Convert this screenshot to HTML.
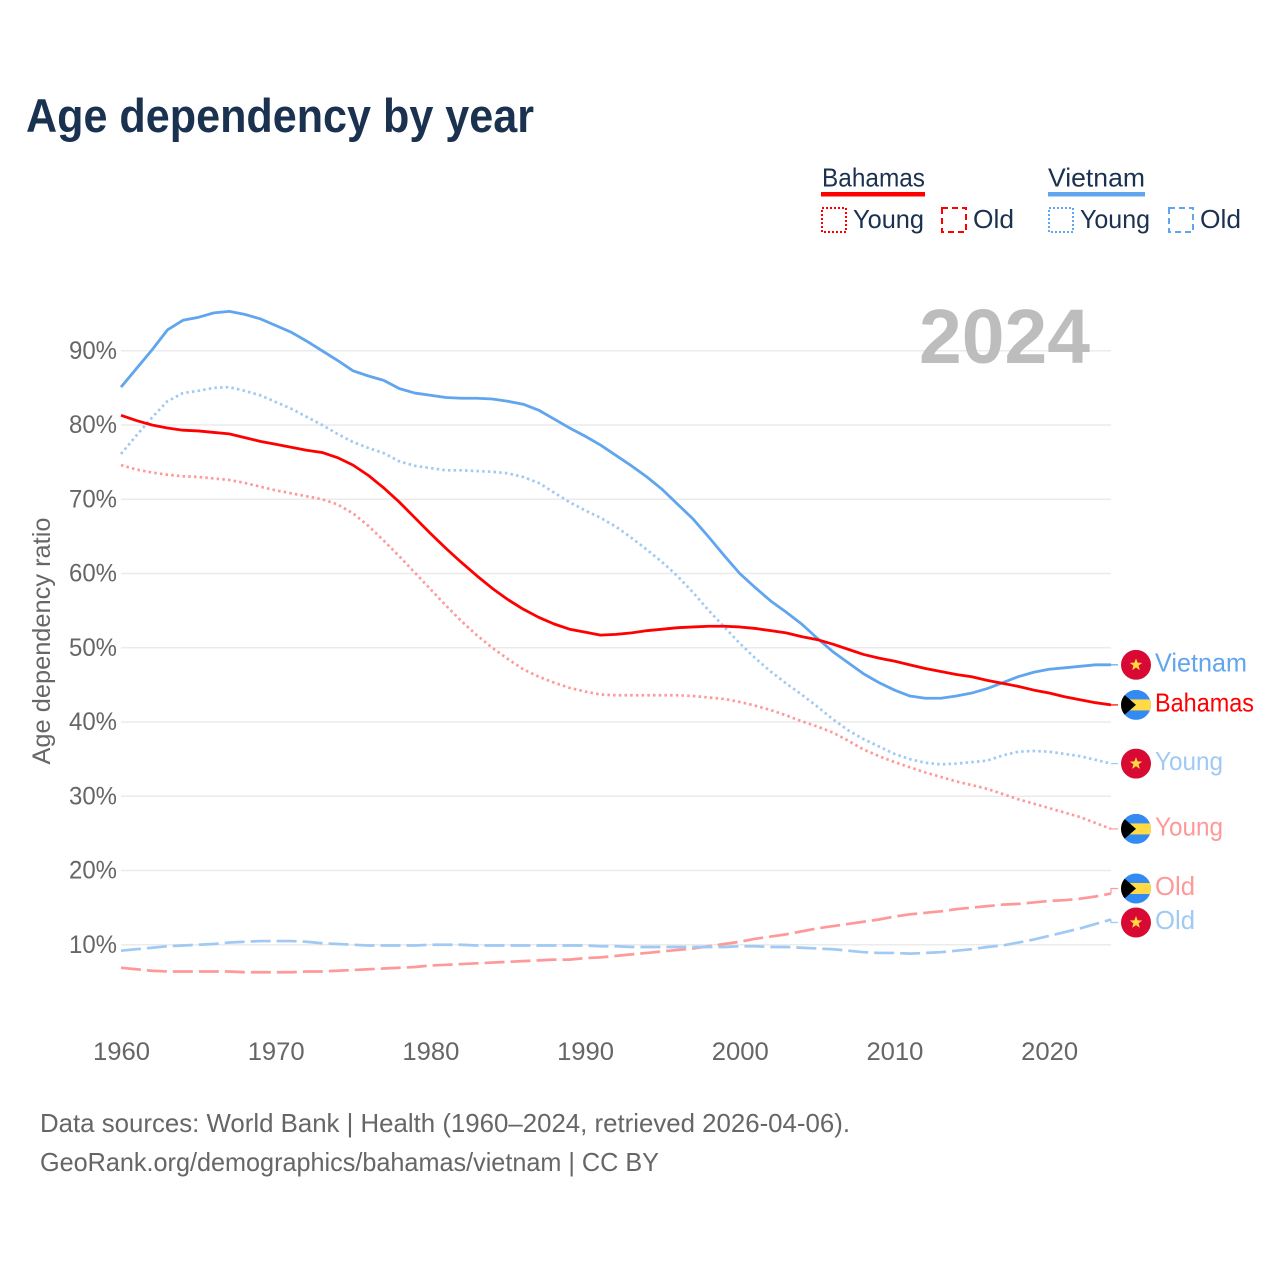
<!DOCTYPE html>
<html lang="en">
<head>
<meta charset="utf-8">
<title>Age dependency by year</title>
<style>
html,body{margin:0;padding:0;background:#fff;}
svg{display:block;font-family:"Liberation Sans",sans-serif;}
</style>
</head>
<body>
<svg id="chart" xmlns="http://www.w3.org/2000/svg" width="1280" height="1280" viewBox="0 0 1280 1280">
  <rect x="0" y="0" width="1280" height="1280" fill="#ffffff"/>
  <text x="26" y="132" font-size="47" font-weight="700" fill="#1a3150" textLength="508" lengthAdjust="spacingAndGlyphs">Age dependency by year</text>

  <g>
    <text x="822" y="186.5" font-size="26" fill="#1a3150" textLength="103" lengthAdjust="spacingAndGlyphs">Bahamas</text>
    <rect x="821" y="192" width="104" height="4.5" fill="#ff0000"/>
    <rect x="822" y="208" width="24" height="24" fill="none" stroke="#ff0000" stroke-width="2" stroke-dasharray="2 2"/>
    <text x="853" y="228" font-size="26" fill="#1a3150" textLength="71" lengthAdjust="spacingAndGlyphs">Young</text>
    <rect x="942" y="208" width="24" height="24" fill="none" stroke="#ff0000" stroke-width="2" stroke-dasharray="6 4"/>
    <text x="973" y="228" font-size="26" fill="#1a3150" textLength="41" lengthAdjust="spacingAndGlyphs">Old</text>

    <text x="1048" y="186.5" font-size="26" fill="#1a3150" textLength="97" lengthAdjust="spacingAndGlyphs">Vietnam</text>
    <rect x="1048" y="192" width="97" height="4.5" fill="#60a5ee"/>
    <rect x="1049" y="208" width="24" height="24" fill="none" stroke="#60a5ee" stroke-width="2" stroke-dasharray="2 2"/>
    <text x="1080" y="228" font-size="26" fill="#1a3150" textLength="70" lengthAdjust="spacingAndGlyphs">Young</text>
    <rect x="1169" y="208" width="24" height="24" fill="none" stroke="#60a5ee" stroke-width="2" stroke-dasharray="6 4"/>
    <text x="1200" y="228" font-size="26" fill="#1a3150" textLength="41" lengthAdjust="spacingAndGlyphs">Old</text>
  </g>

  <g id="grid"></g>
  <text x="919" y="363" font-size="77" font-weight="700" fill="#bdbdbd" textLength="171" lengthAdjust="spacingAndGlyphs">2024</text>
  <g id="yticks"></g>
  <g id="xticks"></g>
  <text transform="translate(50,641) rotate(-90)" text-anchor="middle" font-size="25" fill="#666666" textLength="247" lengthAdjust="spacingAndGlyphs">Age dependency ratio</text>
  <g id="series"></g>
  <g id="labels"></g>

  <text x="40" y="1132" font-size="26" fill="#666666" textLength="810" lengthAdjust="spacingAndGlyphs">Data sources: World Bank | Health (1960–2024, retrieved 2026-04-06).</text>
  <text x="40" y="1171" font-size="26" fill="#666666" textLength="619" lengthAdjust="spacingAndGlyphs">GeoRank.org/demographics/bahamas/vietnam | CC BY</text>
</svg>

<script>
const startYear = 1960;
const endYear = 2024;
const yTickValues = [10, 20, 30, 40, 50, 60, 70, 80, 90];
const xTickYears = [1960, 1970, 1980, 1990, 2000, 2010, 2020];

const bahamasTotal = [
  81.3,80.6,80.0,79.6,79.3,79.2,79.0,78.8,78.3,77.8,
  77.4,77.0,76.6,76.3,75.6,74.6,73.2,71.5,69.6,67.5,
  65.4,63.4,61.5,59.7,58.0,56.5,55.2,54.1,53.2,52.5,
  52.1,51.7,51.8,52.0,52.3,52.5,52.7,52.8,52.9,52.9,
  52.8,52.6,52.3,52.0,51.5,51.1,50.5,49.8,49.1,48.6,
  48.2,47.7,47.2,46.8,46.4,46.1,45.6,45.2,44.8,44.3,
  43.9,43.4,43.0,42.6,42.3];
const bahamasYoung = [
  74.6,74.0,73.6,73.3,73.1,73.0,72.8,72.6,72.2,71.7,
  71.2,70.8,70.4,70.0,69.3,68.1,66.4,64.4,62.3,60.1,
  57.9,55.7,53.6,51.7,50.0,48.5,47.1,46.1,45.3,44.6,
  44.1,43.7,43.6,43.6,43.6,43.6,43.6,43.5,43.3,43.1,
  42.7,42.2,41.6,40.9,40.1,39.4,38.6,37.5,36.3,35.4,
  34.6,33.9,33.2,32.6,32.0,31.5,31.0,30.3,29.6,29.0,
  28.4,27.8,27.2,26.4,25.6];
const bahamasOld = [
  6.9,6.7,6.5,6.4,6.4,6.4,6.4,6.4,6.3,6.3,
  6.3,6.3,6.4,6.4,6.5,6.6,6.7,6.8,6.9,7.0,
  7.2,7.3,7.4,7.5,7.6,7.7,7.8,7.9,8.0,8.0,
  8.2,8.3,8.5,8.7,8.9,9.1,9.3,9.5,9.8,10.1,
  10.4,10.8,11.1,11.4,11.8,12.2,12.5,12.8,13.1,13.4,
  13.8,14.1,14.3,14.5,14.8,15.0,15.2,15.4,15.5,15.7,
  15.9,16.0,16.2,16.5,16.9];
const vietnamTotal = [
  85.1,87.6,90.1,92.8,94.1,94.5,95.1,95.3,94.9,94.3,
  93.4,92.5,91.3,90.0,88.7,87.3,86.6,86.0,84.9,84.3,
  84.0,83.7,83.6,83.6,83.5,83.2,82.8,82.0,80.8,79.6,
  78.5,77.3,75.9,74.5,73.0,71.3,69.3,67.3,64.9,62.4,
  60.0,58.1,56.3,54.8,53.2,51.3,49.5,48.0,46.5,45.3,
  44.3,43.5,43.2,43.2,43.5,43.9,44.5,45.3,46.1,46.7,
  47.1,47.3,47.5,47.7,47.7];
const vietnamYoung = [
  76.1,78.6,81.0,83.2,84.3,84.6,85.0,85.1,84.6,84.0,
  83.1,82.2,81.1,80.0,78.8,77.7,76.9,76.2,75.1,74.5,
  74.2,73.9,73.9,73.8,73.7,73.5,73.0,72.2,70.9,69.6,
  68.5,67.5,66.3,64.8,63.2,61.5,59.6,57.4,55.0,52.8,
  50.6,48.6,46.8,45.2,43.7,42.1,40.4,38.9,37.7,36.7,
  35.7,35.0,34.5,34.3,34.4,34.6,34.8,35.5,36.0,36.1,
  36.0,35.7,35.4,34.9,34.4];
const vietnamOld = [
  9.2,9.4,9.6,9.8,9.9,10.0,10.1,10.3,10.4,10.5,
  10.5,10.5,10.4,10.2,10.1,10.0,9.9,9.9,9.9,9.9,
  10.0,10.0,10.0,9.9,9.9,9.9,9.9,9.9,9.9,9.9,
  9.9,9.8,9.8,9.7,9.7,9.7,9.7,9.7,9.7,9.7,
  9.8,9.8,9.7,9.7,9.6,9.5,9.4,9.2,9.0,8.9,
  8.9,8.8,8.9,9.0,9.2,9.4,9.7,9.9,10.3,10.7,
  11.2,11.7,12.2,12.8,13.4];

const NS = 'http://www.w3.org/2000/svg';
const xLeft = 121;
const xRight = 1111;
const yZero = 1019;
const pxPerPct = 7.425;
function xScale(year) { return xLeft + (year - startYear) * (xRight - xLeft) / (endYear - startYear); }
function yScale(v) { return yZero - v * pxPerPct; }

const gridG = document.getElementById('grid');
const yG = document.getElementById('yticks');
const xG = document.getElementById('xticks');
const seriesG = document.getElementById('series');
const labelsG = document.getElementById('labels');

yTickValues.forEach(function (v) {
  const line = document.createElementNS(NS, 'line');
  
  
  line.setAttribute('x1', xLeft);
  line.setAttribute('x2', xRight);
  line.setAttribute('y1', yScale(v));
  line.setAttribute('y2', yScale(v));
  line.setAttribute('stroke', '#ebebeb');
  line.setAttribute('stroke-width', '1.5');
  gridG.appendChild(line);

  const t = document.createElementNS(NS, 'text');
  
  
  t.setAttribute('x', 69);
  t.setAttribute('y', yScale(v) + 8);
  t.setAttribute('font-size', '25');
  t.setAttribute('fill', '#666666');
  t.setAttribute('textLength', '48');
  t.setAttribute('lengthAdjust', 'spacingAndGlyphs');
  t.textContent = v + '%';
  yG.appendChild(t);
});

xTickYears.forEach(function (yr) {
  const t = document.createElementNS(NS, 'text');
  
  
  t.setAttribute('x', xScale(yr) - 28);
  t.setAttribute('y', 1060);
  t.setAttribute('font-size', '25');
  t.setAttribute('fill', '#666666');
  t.setAttribute('textLength', '57');
  t.setAttribute('lengthAdjust', 'spacingAndGlyphs');
  t.textContent = String(yr);
  xG.appendChild(t);
});

const seriesList = [
  { id: 'bahamas-young', label: 'Young', flag: 'bs', values: bahamasYoung, color: '#ff9999', dash: '2.5 3.2', width: 2.7, labelWidth: 68 },
  { id: 'vietnam-young', label: 'Young', flag: 'vn', values: vietnamYoung, color: '#a0c9f4', dash: '2.5 3.2', width: 2.7, labelWidth: 68 },
  { id: 'bahamas-old', label: 'Old', flag: 'bs', values: bahamasOld, color: '#ff9999', dash: '20 6', width: 2.7, labelWidth: 40 },
  { id: 'vietnam-old', label: 'Old', flag: 'vn', values: vietnamOld, color: '#a0c9f4', dash: '20 6', width: 2.7, labelWidth: 40 },
  { id: 'vietnam-total', label: 'Vietnam', flag: 'vn', values: vietnamTotal, color: '#60a5ee', dash: '', width: 2.8, labelWidth: 92 },
  { id: 'bahamas-total', label: 'Bahamas', flag: 'bs', values: bahamasTotal, color: '#ff0000', dash: '', width: 2.8, labelWidth: 99 }
];

seriesList.forEach(function (s) {
  const p = document.createElementNS(NS, 'polyline');
  
  
  p.setAttribute('fill', 'none');
  p.setAttribute('stroke', s.color);
  p.setAttribute('stroke-width', s.width);
  p.setAttribute('stroke-linejoin', 'round');
  if (s.dash) p.setAttribute('stroke-dasharray', s.dash);
  p.setAttribute('points', s.values.map(function (v, i) {
    return xScale(startYear + i).toFixed(2) + ',' + yScale(v).toFixed(2);
  }).join(' '));
  seriesG.appendChild(p);
});

/* End labels: start at the last value, then push colliding labels apart. */
const minGap = 34;
const placed = seriesList.map(function (s) {
  return { s: s, endY: yScale(s.values[s.values.length - 1]), ly: yScale(s.values[s.values.length - 1]) };
}).sort(function (a, b) { return a.endY - b.endY; });
placed.forEach(function (a, i) {
  if (i > 0 && a.ly - placed[i - 1].ly < minGap) {
    const mid = (a.ly + placed[i - 1].ly) / 2;
    placed[i - 1].ly = mid - minGap / 2 - 1;
    a.ly = mid + minGap / 2 - 1;
  }
});

const flagX = xRight + 25;
const flagR = 15;
function starPoints(cx, cy, r) {
  const pts = [];
  for (let i = 0; i < 10; i++) {
    const rad = i % 2 === 0 ? r : r * 0.42;
    const a = -Math.PI / 2 + i * Math.PI / 5;
    pts.push((cx + rad * Math.cos(a)).toFixed(2) + ',' + (cy + rad * Math.sin(a)).toFixed(2));
  }
  return pts.join(' ');
}

placed.forEach(function (item) {
  const s = item.s;
  const ly = item.ly;

  const conn = document.createElementNS(NS, 'polyline');
  
  
  conn.setAttribute('fill', 'none');
  conn.setAttribute('stroke', s.color);
  conn.setAttribute('stroke-width', '1.2');
  conn.setAttribute('points', xRight + ',' + item.endY.toFixed(2) + ' ' + xRight + ',' + ly.toFixed(2) + ' ' + (xRight + 7) + ',' + ly.toFixed(2));
  labelsG.appendChild(conn);

  const clip = document.createElementNS(NS, 'clipPath');
  clip.setAttribute('id', 'clip-' + s.id);
  const cc = document.createElementNS(NS, 'circle');
  cc.setAttribute('cx', flagX);
  cc.setAttribute('cy', ly);
  cc.setAttribute('r', flagR);
  clip.appendChild(cc);
  labelsG.appendChild(clip);

  const flag = document.createElementNS(NS, 'g');
  
  
  flag.setAttribute('clip-path', 'url(#clip-' + s.id + ')');
  if (s.flag === 'vn') {
    const bg = document.createElementNS(NS, 'rect');
    bg.setAttribute('x', flagX - flagR);
    bg.setAttribute('y', ly - flagR);
    bg.setAttribute('width', flagR * 2);
    bg.setAttribute('height', flagR * 2);
    bg.setAttribute('fill', '#d80a33');
    flag.appendChild(bg);
    const star = document.createElementNS(NS, 'polygon');
    star.setAttribute('points', starPoints(flagX, ly, 6.5));
    star.setAttribute('fill', '#ffd83d');
    flag.appendChild(star);
  } else {
    const bg = document.createElementNS(NS, 'rect');
    bg.setAttribute('x', flagX - flagR);
    bg.setAttribute('y', ly - flagR);
    bg.setAttribute('width', flagR * 2);
    bg.setAttribute('height', flagR * 2);
    bg.setAttribute('fill', '#338af3');
    flag.appendChild(bg);
    const band = document.createElementNS(NS, 'rect');
    band.setAttribute('x', flagX - flagR);
    band.setAttribute('y', ly - 5.5);
    band.setAttribute('width', flagR * 2);
    band.setAttribute('height', 11);
    band.setAttribute('fill', '#ffda44');
    flag.appendChild(band);
    const tri = document.createElementNS(NS, 'polygon');
    tri.setAttribute('points', (flagX - flagR) + ',' + (ly - 13) + ' ' + flagX + ',' + ly + ' ' + (flagX - flagR) + ',' + (ly + 13));
    tri.setAttribute('fill', '#000000');
    flag.appendChild(tri);
  }
  labelsG.appendChild(flag);

  const t = document.createElementNS(NS, 'text');
  
  
  t.setAttribute('x', flagX + 19);
  t.setAttribute('y', ly + 6.5);
  t.setAttribute('font-size', '26');
  t.setAttribute('fill', s.color);
  t.setAttribute('textLength', s.labelWidth);
  t.setAttribute('lengthAdjust', 'spacingAndGlyphs');
  t.textContent = s.label;
  labelsG.appendChild(t);
});
</script>
</body>
</html>
